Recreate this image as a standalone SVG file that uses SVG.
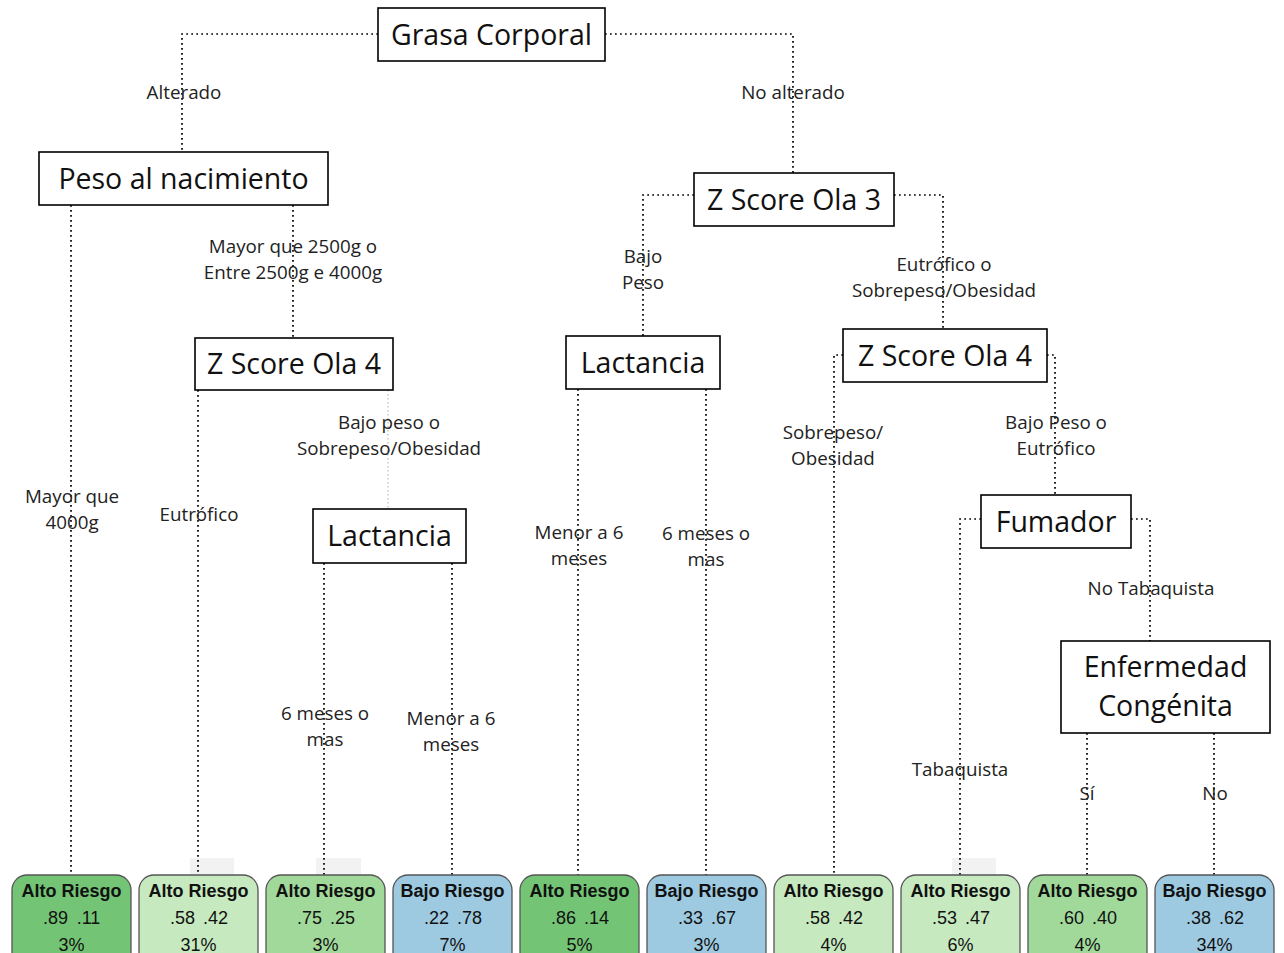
<svg xmlns="http://www.w3.org/2000/svg" width="1284" height="953" viewBox="0 0 1284 953">
<style>
.bg{fill:#ffffff}
.node rect{fill:#ffffff;stroke:#000000;stroke-width:1.6}
.node text{font-family:"Open Sans","Liberation Sans",sans-serif;font-size:28.5px;fill:#111111;text-anchor:middle}
.conn path{fill:none;stroke:#000000;stroke-width:1.7;stroke-dasharray:1.7 3.3}
.conn path.faint{stroke:#b8b8b8;stroke-width:1.2;stroke-dasharray:1.5 2.5}
.lbl{font-family:"Open Sans","Liberation Sans",sans-serif;font-size:18.8px;fill:#222222;text-anchor:middle}
.leaf rect.box{stroke:#555555;stroke-width:1.3}
.leaf text{font-family:"Liberation Sans",Arial,sans-serif;font-size:18px;fill:#111111;text-anchor:middle}
.leaf text.t{font-weight:bold}
.g1{fill:#74c476}
.g2{fill:#c7e9c0}
.g3{fill:#a1d99b}
.b1{fill:#9ecae1}
.shade{fill:#f2f2f2}
</style>
<rect class="bg" x="0" y="0" width="1284" height="953"/>

<g id="shades">
<rect class="shade" x="190" y="858" width="44" height="18"/>
<rect class="shade" x="316" y="858" width="45" height="18"/>
<rect class="shade" x="952" y="858" width="44" height="18"/>
</g>

<g id="connectors" class="conn">
<path d="M378,34 H182 V152"/>
<path d="M605,34 H793 V173"/>
<path d="M71,205 V875"/>
<path d="M293,205 V338"/>
<path d="M198,390 V875"/>
<path class="faint" d="M388,390 V509"/>
<path d="M324,563 V875"/>
<path d="M452,563 V875"/>
<path d="M694,195 H643 V336"/>
<path d="M894,195 H943 V329"/>
<path d="M578,389 V875"/>
<path d="M706,389 V875"/>
<path d="M843,355 H834 V875"/>
<path d="M1047,355 H1055 V495"/>
<path d="M981,519 H960 V875"/>
<path d="M1131,519 H1150 V641"/>
<path d="M1087,733 V875"/>
<path d="M1214,733 V875"/>
</g>

<g id="labels">
<text class="lbl" x="184" y="99">Alterado</text>
<text class="lbl" x="793" y="99">No alterado</text>
<text class="lbl" x="72" y="503">Mayor que</text>
<text class="lbl" x="72" y="529">4000g</text>
<text class="lbl" x="293" y="253">Mayor que 2500g o</text>
<text class="lbl" x="293" y="279">Entre 2500g e 4000g</text>
<text class="lbl" x="199" y="521">Eutrófico</text>
<text class="lbl" x="389" y="429">Bajo peso o</text>
<text class="lbl" x="389" y="455">Sobrepeso/Obesidad</text>
<text class="lbl" x="325" y="720">6 meses o</text>
<text class="lbl" x="325" y="746">mas</text>
<text class="lbl" x="451" y="725">Menor a 6</text>
<text class="lbl" x="451" y="751">meses</text>
<text class="lbl" x="643" y="263">Bajo</text>
<text class="lbl" x="643" y="289">Peso</text>
<text class="lbl" x="944" y="271">Eutrófico o</text>
<text class="lbl" x="944" y="297">Sobrepeso/Obesidad</text>
<text class="lbl" x="579" y="539">Menor a 6</text>
<text class="lbl" x="579" y="565">meses</text>
<text class="lbl" x="706" y="540">6 meses o</text>
<text class="lbl" x="706" y="566">mas</text>
<text class="lbl" x="833" y="439">Sobrepeso/</text>
<text class="lbl" x="833" y="465">Obesidad</text>
<text class="lbl" x="1056" y="429">Bajo Peso o</text>
<text class="lbl" x="1056" y="455">Eutrófico</text>
<text class="lbl" x="960" y="776">Tabaquista</text>
<text class="lbl" x="1151" y="595">No Tabaquista</text>
<text class="lbl" x="1087" y="800">Sí</text>
<text class="lbl" x="1215" y="800">No</text>
</g>

<g id="n-grasa" class="node"><rect x="378" y="8" width="227" height="53"/><text x="491.5" y="45">Grasa Corporal</text></g>
<g id="n-peso" class="node"><rect x="39" y="152" width="289" height="53"/><text x="183.5" y="189">Peso al nacimiento</text></g>
<g id="n-zs3" class="node"><rect x="694" y="173" width="200" height="53"/><text x="794" y="210">Z Score Ola 3</text></g>
<g id="n-zs4a" class="node"><rect x="195" y="338" width="198" height="52"/><text x="294" y="374">Z Score Ola 4</text></g>
<g id="n-lact2" class="node"><rect x="566" y="336" width="154" height="53"/><text x="643" y="373">Lactancia</text></g>
<g id="n-zs4b" class="node"><rect x="843" y="329" width="204" height="53"/><text x="945" y="366">Z Score Ola 4</text></g>
<g id="n-lact1" class="node"><rect x="313" y="509" width="153" height="54"/><text x="389.5" y="546">Lactancia</text></g>
<g id="n-fum" class="node"><rect x="981" y="495" width="150" height="53"/><text x="1056" y="532">Fumador</text></g>
<g id="n-enf" class="node"><rect x="1061" y="641" width="209" height="92"/><text x="1165.5" y="677">Enfermedad</text><text x="1165.5" y="716">Congénita</text></g>

<g id="leaf1" class="leaf"><rect class="box g1" x="12" y="875" width="119" height="100" rx="15"/><text class="t" x="71.5" y="897">Alto Riesgo</text><text y="924"><tspan x="55.5">.89</tspan><tspan x="88.5">.11</tspan></text><text x="71.5" y="951">3%</text></g>
<g id="leaf2" class="leaf"><rect class="box g2" x="139" y="875" width="119" height="100" rx="15"/><text class="t" x="198.5" y="897">Alto Riesgo</text><text y="924"><tspan x="182.5">.58</tspan><tspan x="215.5">.42</tspan></text><text x="198.5" y="951">31%</text></g>
<g id="leaf3" class="leaf"><rect class="box g3" x="266" y="875" width="119" height="100" rx="15"/><text class="t" x="325.5" y="897">Alto Riesgo</text><text y="924"><tspan x="309.5">.75</tspan><tspan x="342.5">.25</tspan></text><text x="325.5" y="951">3%</text></g>
<g id="leaf4" class="leaf"><rect class="box b1" x="393" y="875" width="119" height="100" rx="15"/><text class="t" x="452.5" y="897">Bajo Riesgo</text><text y="924"><tspan x="436.5">.22</tspan><tspan x="469.5">.78</tspan></text><text x="452.5" y="951">7%</text></g>
<g id="leaf5" class="leaf"><rect class="box g1" x="520" y="875" width="119" height="100" rx="15"/><text class="t" x="579.5" y="897">Alto Riesgo</text><text y="924"><tspan x="563.5">.86</tspan><tspan x="596.5">.14</tspan></text><text x="579.5" y="951">5%</text></g>
<g id="leaf6" class="leaf"><rect class="box b1" x="647" y="875" width="119" height="100" rx="15"/><text class="t" x="706.5" y="897">Bajo Riesgo</text><text y="924"><tspan x="690.5">.33</tspan><tspan x="723.5">.67</tspan></text><text x="706.5" y="951">3%</text></g>
<g id="leaf7" class="leaf"><rect class="box g2" x="774" y="875" width="119" height="100" rx="15"/><text class="t" x="833.5" y="897">Alto Riesgo</text><text y="924"><tspan x="817.5">.58</tspan><tspan x="850.5">.42</tspan></text><text x="833.5" y="951">4%</text></g>
<g id="leaf8" class="leaf"><rect class="box g2" x="901" y="875" width="119" height="100" rx="15"/><text class="t" x="960.5" y="897">Alto Riesgo</text><text y="924"><tspan x="944.5">.53</tspan><tspan x="977.5">.47</tspan></text><text x="960.5" y="951">6%</text></g>
<g id="leaf9" class="leaf"><rect class="box g3" x="1028" y="875" width="119" height="100" rx="15"/><text class="t" x="1087.5" y="897">Alto Riesgo</text><text y="924"><tspan x="1071.5">.60</tspan><tspan x="1104.5">.40</tspan></text><text x="1087.5" y="951">4%</text></g>
<g id="leaf10" class="leaf"><rect class="box b1" x="1155" y="875" width="119" height="100" rx="15"/><text class="t" x="1214.5" y="897">Bajo Riesgo</text><text y="924"><tspan x="1198.5">.38</tspan><tspan x="1231.5">.62</tspan></text><text x="1214.5" y="951">34%</text></g>
</svg>
